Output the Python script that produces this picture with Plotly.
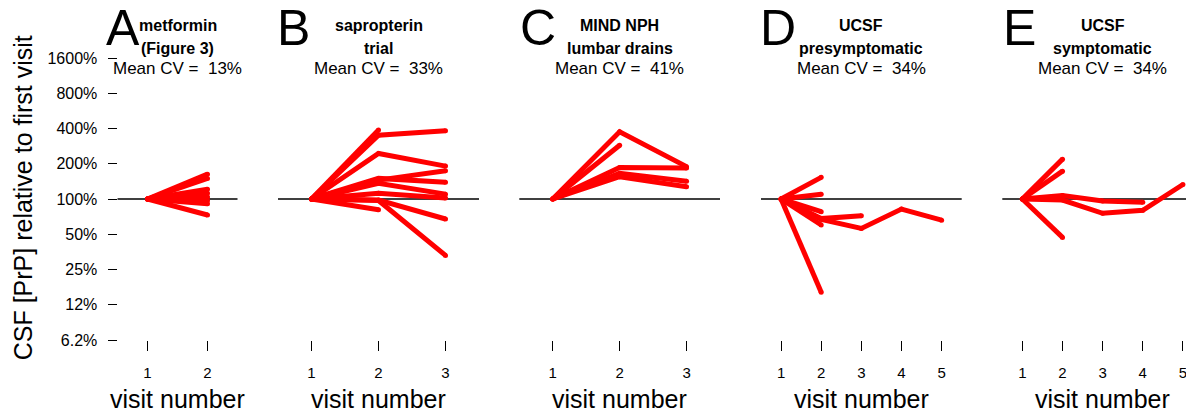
import math
import plotly.graph_objects as go

# ---------------- data ----------------
panel_letters = ["A", "B", "C", "D", "E"]
panel_titles = [["metformin", "(Figure 3)"],
                ["sapropterin", "trial"],
                ["MIND NPH", "lumbar drains"],
                ["UCSF", "presymptomatic"],
                ["UCSF", "symptomatic"]]
mean_cv = [13, 33, 41, 34, 34]
n_visits = [2, 3, 3, 5, 5]

# CSF [PrP] relative to first visit (1 = 100%), one list per participant
metformin = [[1, 1.63], [1, 1.50], [1, 1.21], [1, 1.12], [1, 1.04],
             [1, 0.97], [1, 0.91], [1, 0.73]]
sapropterin = [[1, 3.51, 3.82], [1, 3.88], [1, 2.45, 1.91], [1, 1.45, 1.74],
               [1, 1.50, 1.39], [1, 1.36, 1.10], [1, 1.12, 1.02],
               [1, 0.98, 0.675], [1, 0.97, 0.33], [1, 0.81]]
mind_nph = [[1, 3.75, 1.89], [1, 2.88], [1, 1.86, 1.84], [1, 1.66, 1.42],
            [1, 1.55, 1.27]]
ucsf_presymptomatic = [[1, 1.53], [1, 1.10], [1, 0.78], [1, 0.60],
                       [1, 0.68, 0.72], [1, 0.67, 0.56, 0.82, 0.66], [1, 0.16]]
ucsf_symptomatic = [[1, 2.19], [1, 1.73], [1, 0.47], [1, 1.07, 0.96, 0.94],
                    [1, 0.98, 0.755, 0.80, 1.33]]
panels = [metformin, sapropterin, mind_nph, ucsf_presymptomatic, ucsf_symptomatic]

y_tickvals = [0.0625, 0.125, 0.25, 0.5, 1, 2, 4, 8, 16]
y_ticktext = ["6.2%", "12%", "25%", "50%", "100%", "200%", "400%", "800%", "1600%"]

# ---------------- layout constants ----------------
# the page body adds an 8px margin, so the figure is placed at (8, 8)
OFF = 8
W, H = 1194, 409
FONT = "Liberation Sans, Arial, Helvetica, sans-serif"
RED = "#ff0000"
# plot regions in page pixels
x_px = [(117.5, 237.5), (278, 479), (519.3, 720), (761, 961.7), (1002.3, 1202)]
letter_px = [105, 276, 518.5, 759, 1002]
plot_top, plot_bot = 58, 340


def px_x(p):
    return (p - OFF) / W


def px_y(p):
    return 1 - (p - OFF) / H


fig = go.Figure()
layout = dict(width=W, height=H, autosize=False,
              margin=dict(l=0, r=0, t=0, b=0, pad=0, autoexpand=False),
              paper_bgcolor="white", plot_bgcolor="white",
              font=dict(family=FONT, color="black"), showlegend=False)
annotations = []
shapes = []

for i, (data, n) in enumerate(zip(panels, n_visits)):
    k = "" if i == 0 else str(i + 1)
    x0, x1 = x_px[i]
    if i == 4:
        per = (x_px[3][1] - x_px[3][0]) / 5.0
        xr = [0.5, 0.5 + (x1 - x0) / per]
    else:
        xr = [0.5, n + 0.5]
    layout["xaxis" + k] = dict(domain=[px_x(x0), min(1.0, px_x(x1))], range=xr,
                               anchor="y" + k, automargin=False,
                               tickvals=list(range(1, n + 1)),
                               ticktext=[str(v) for v in range(1, n + 1)],
                               ticks="outside", ticklen=10, tickwidth=1.3,
                               tickcolor="black", showline=False, showgrid=False,
                               zeroline=False, ticklabelstandoff=9,
                               tickfont=dict(size=15, family=FONT, color="black"))
    yax = dict(domain=[px_y(plot_bot), px_y(plot_top)], type="log", anchor="x" + k,
               range=[math.log10(1 / 16), math.log10(16)], automargin=False,
               showgrid=False, zeroline=False, showline=False)
    if i == 0:
        yax.update(tickvals=y_tickvals, ticktext=y_ticktext, ticks="outside",
                   ticklen=9, tickwidth=1.3, tickcolor="black",
                   ticklabelstandoff=7,
                   tickfont=dict(size=16, family=FONT, color="black"))
    else:
        yax.update(showticklabels=False, ticks="")
    layout["yaxis" + k] = yax

    shapes.append(dict(type="line", xref="x" + k + " domain", x0=0, x1=1,
                       yref="y" + k, y0=1, y1=1, layer="below",
                       line=dict(color="black", width=1.5)))

    for series in data:
        fig.add_trace(go.Scatter(x=list(range(1, len(series) + 1)), y=series,
                                 mode="lines+markers",
                                 line=dict(color=RED, width=5),
                                 marker=dict(color=RED, size=5),
                                 xaxis="x" + k, yaxis="y" + k,
                                 hoverinfo="skip", cliponaxis=False))

    cx = (0.5 + n + 0.5) / 2
    annotations.append(dict(text=panel_letters[i], xref="paper", yref="paper",
                            x=px_x(letter_px[i]), y=px_y(28.3), xanchor="left",
                            yanchor="middle", showarrow=False, borderpad=0,
                            font=dict(size=50, family=FONT, color="black")))
    annotations.append(dict(text="<b>" + panel_titles[i][0] + "</b>", xref="x" + k,
                            yref="paper", x=cx, y=px_y(26), xanchor="center",
                            yanchor="middle", showarrow=False, borderpad=0,
                            font=dict(size=16, family=FONT, color="black")))
    annotations.append(dict(text="<b>" + panel_titles[i][1] + "</b>", xref="x" + k,
                            yref="paper", x=cx, y=px_y(48), xanchor="center",
                            yanchor="middle", showarrow=False, borderpad=0,
                            font=dict(size=16, family=FONT, color="black")))
    annotations.append(dict(text="Mean CV = \u00a0%d%%" % mean_cv[i], xref="x" + k,
                            yref="paper", x=cx, y=px_y(68), xanchor="center",
                            yanchor="middle", showarrow=False, borderpad=0,
                            font=dict(size=17, family=FONT, color="black")))
    annotations.append(dict(text="visit number", xref="x" + k,
                            yref="paper", x=cx, y=px_y(399), xanchor="center",
                            yanchor="middle", showarrow=False, borderpad=0,
                            font=dict(size=25, family=FONT, color="black")))

annotations.append(dict(text="CSF [PrP] relative to first visit", xref="paper",
                        yref="paper", x=px_x(23), y=px_y(198.3), xanchor="center",
                        yanchor="middle", textangle=-90, showarrow=False,
                        borderpad=0, font=dict(size=25, family=FONT, color="black")))

layout["annotations"] = annotations
layout["shapes"] = shapes
fig.update_layout(**layout)
fig.write_html("out.html")
